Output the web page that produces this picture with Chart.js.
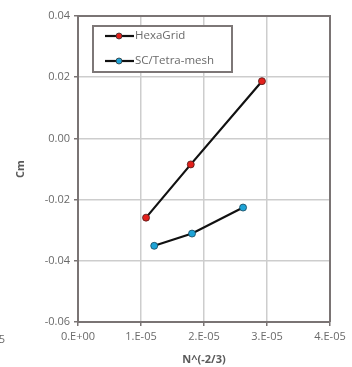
<!DOCTYPE html>
<html>
<head>
<meta charset="utf-8">
<script src="https://cdn.jsdelivr.net/npm/chart.js@4/dist/chart.umd.min.js"></script>
<style>
  html, body { margin: 0; padding: 0; background: #fff; }
  #wrap { width: 352px; height: 367px; position: relative; }
</style>
</head>
<body>
<div id="wrap"><canvas id="c" width="352" height="367"></canvas></div>
<script>
// Moment coefficient vs. grid-size parameter N^(-2/3)
const seriesNames = ['HexaGrid', 'SC/Tetra-mesh'];
const hexaX = [1.08e-5, 1.79e-5, 2.92e-5];
const hexaCm = [-0.0259, -0.0085, 0.0187];
const tetraX = [1.21e-5, 1.81e-5, 2.62e-5];
const tetraCm = [-0.0351, -0.0311, -0.0226];
const xTicks = [0, 1e-5, 2e-5, 3e-5, 4e-5];
const xTickLabels = ['0.E+00', '1.E-05', '2.E-05', '3.E-05', '4.E-05'];
const yTickLabels = ['-0.06', '-0.04', '-0.02', '0.00', '0.02', '0.04'];

const FONT = '"Open Sans", Arial, sans-serif';
const TEXT = '#6a6a6a';
const AXIS = '#7a7474';
const GRID = '#cdcdcd';
const markerColors = ['#e3201b', '#1ea3d6'];

const toPts = (xs, ys) => xs.map((x, i) => ({ x: x, y: ys[i] }));

// Frame around the plot area, the clipped neighbouring label and the legend box
const decorations = {
  id: 'decorations',
  afterDatasetsDraw(chart) {
    const ctx = chart.ctx;
    const a = chart.chartArea;
    ctx.save();
    ctx.strokeStyle = AXIS;
    ctx.lineWidth = 2;
    ctx.beginPath();
    ctx.moveTo(a.left, a.top);
    ctx.lineTo(a.right, a.top);
    ctx.lineTo(a.right, a.bottom);
    ctx.stroke();

    // legend
    const bx = 93, by = 26, bw = 139, bh = 46;
    ctx.fillStyle = '#fff';
    ctx.fillRect(bx, by, bw, bh);
    ctx.strokeStyle = '#7d7777';
    ctx.lineWidth = 2;
    ctx.strokeRect(bx, by, bw, bh);
    ctx.font = '11.5px ' + FONT;
    ctx.textBaseline = 'middle';
    chart.data.datasets.forEach((ds, i) => {
      const y = by + 10 + i * 25;
      ctx.strokeStyle = '#111';
      ctx.lineWidth = 2.2;
      ctx.beginPath();
      ctx.moveTo(105, y);
      ctx.lineTo(134, y);
      ctx.stroke();
      ctx.beginPath();
      ctx.arc(119, y, 3, 0, Math.PI * 2);
      ctx.fillStyle = markerColors[i];
      ctx.fill();
      ctx.lineWidth = 0.8;
      ctx.strokeStyle = '#333';
      ctx.stroke();
      ctx.fillStyle = TEXT;
      ctx.textAlign = 'left';
      ctx.fillText(ds.label, 135, y);
    });

    // edge of the neighbouring panel's axis label
    ctx.font = '11px ' + FONT;
    ctx.fillStyle = TEXT;
    ctx.textAlign = 'right';
    ctx.fillText('4.E-05', 5, 340);
    ctx.restore();
  }
};

new Chart(document.getElementById('c'), {
  type: 'scatter',
  data: {
    datasets: [
      {
        label: seriesNames[0],
        data: toPts(hexaX, hexaCm),
        showLine: true,
        borderColor: '#111',
        borderWidth: 2.2,
        pointBackgroundColor: markerColors[0],
        pointBorderColor: '#4a1a1a',
        pointBorderWidth: 0.8,
        pointRadius: 3.5
      },
      {
        label: seriesNames[1],
        data: toPts(tetraX, tetraCm),
        showLine: true,
        borderColor: '#111',
        borderWidth: 2.2,
        pointBackgroundColor: markerColors[1],
        pointBorderColor: '#17465a',
        pointBorderWidth: 0.8,
        pointRadius: 3.5
      }
    ]
  },
  options: {
    responsive: false,
    animation: false,
    devicePixelRatio: 1,
    layout: { padding: { left: 0, right: 22, top: 16, bottom: 0 } },
    plugins: { legend: { display: false }, tooltip: { enabled: false } },
    scales: {
      x: {
        type: 'linear',
        min: 0, max: 4e-5,
        afterBuildTicks(s) { s.ticks = xTicks.map(v => ({ value: v })); },
        afterFit(s) { s.height = 45; },
        ticks: {
          color: TEXT,
          font: { family: FONT, size: 11 },
          padding: 4,
          maxRotation: 0,
          callback(v) { return xTickLabels[xTicks.indexOf(v)] ?? ''; }
        },
        grid: { color: GRID, lineWidth: 1.5, tickLength: 4, tickColor: AXIS },
        border: { color: AXIS, width: 2 },
        title: {
          display: true,
          text: 'N^(-2/3)',
          color: '#5a5a5a',
          font: { family: FONT, size: 11, weight: 'bold' },
          padding: { top: 0, bottom: 1 }
        }
      },
      y: {
        min: -0.06, max: 0.04,
        afterBuildTicks(s) {
          s.ticks = yTickLabels.map(t => ({ value: parseFloat(t) }));
        },
        afterFit(s) { s.width = 78; },
        ticks: {
          color: TEXT,
          font: { family: FONT, size: 11 },
          padding: 4,
          callback(v) {
            const i = yTickLabels.findIndex(t => Math.abs(parseFloat(t) - v) < 1e-9);
            return i >= 0 ? yTickLabels[i] : '';
          }
        },
        grid: { color: GRID, lineWidth: 1.5, tickLength: 4, tickColor: AXIS },
        border: { color: AXIS, width: 2 },
        title: {
          display: true,
          text: 'Cm',
          color: '#5a5a5a',
          font: { family: FONT, size: 11, weight: 'bold' },
          padding: { top: 14, bottom: 0 }
        }
      }
    }
  },
  plugins: [decorations]
});
</script>
</body>
</html>
